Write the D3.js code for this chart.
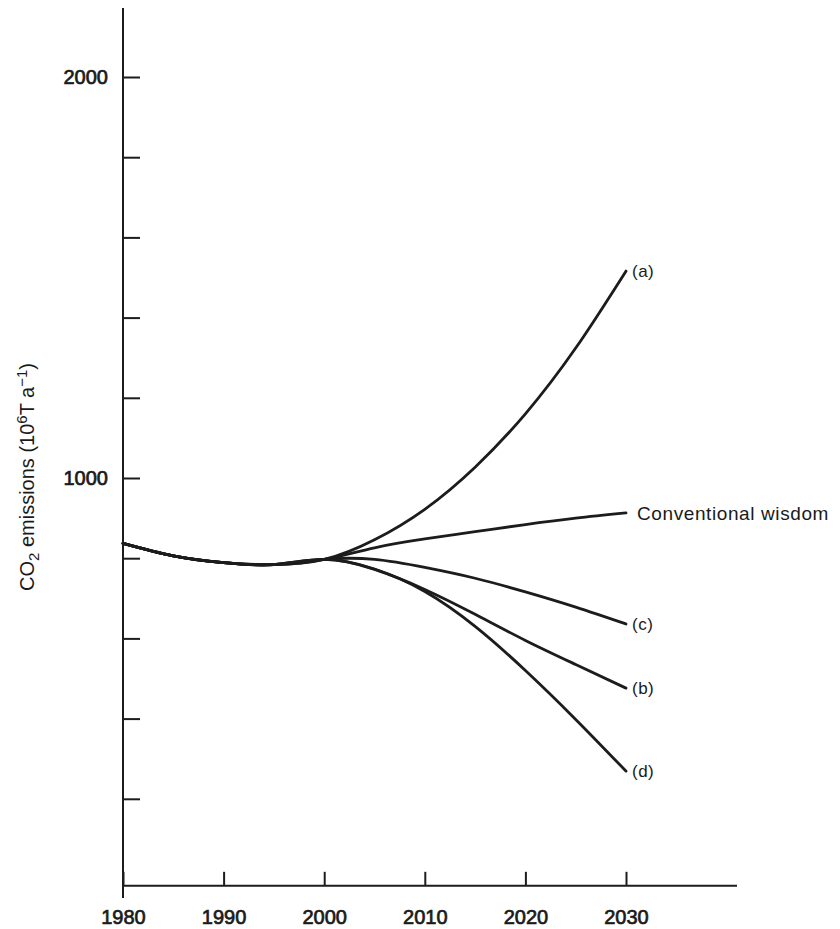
<!DOCTYPE html>
<html>
<head>
<meta charset="utf-8">
<script src="https://cdn.jsdelivr.net/npm/d3@7"></script>
<style>
  body { margin: 0; background: #fff; }
  svg text { font-family: "Liberation Sans", Arial, sans-serif; fill: #1a1a1a; }
</style>
</head>
<body>
<div id="chart"></div>
<script>
// data (CO2 emissions, 10^6 T per year)
var baseYears = [1980, 1985, 1990, 1995, 2000];
var baseValues = [837, 806, 789, 784, 797];

var branchYears = [2000, 2005, 2010, 2015, 2020, 2025, 2030];
var seriesA = [797, 846, 922, 1027, 1160, 1324, 1516];
var seriesConv = [797, 826, 848, 866, 884, 900, 913];
var seriesC = [797, 797, 777, 750, 716, 678, 636];
var seriesB = [797, 772, 722, 660, 595, 535, 476];
var seriesD = [797, 773, 717, 630, 520, 398, 269];

var seriesNames = ["(a)", "Conventional wisdom", "(c)", "(b)", "(d)"];
var seriesList = [seriesA, seriesConv, seriesC, seriesB, seriesD];

var xTicks = [1980, 1990, 2000, 2010, 2020, 2030];
var yTicks = [200, 400, 600, 800, 1000, 1200, 1400, 1600, 1800, 2000];
var yLabelled = [1000, 2000];

var width = 840, height = 929;

var svg = d3.select("#chart").append("svg")
    .attr("width", width)
    .attr("height", height);

// scales
var x = d3.scaleLinear().domain([1980, 2030]).range([123, 626]);
var y = d3.scaleLinear().domain([0, 2000]).range([879, 77]);
var yMin = -17;   // x-axis sits a bit below zero

var ink = "#1c1c1c";

// y axis
var yAxis = svg.append("g")
    .attr("transform", "translate(" + x(1980) + ",0)")
    .call(d3.axisLeft(y)
        .tickValues(yTicks)
        .tickSizeInner(-17)
        .tickSizeOuter(0)
        .tickPadding(15)
        .tickFormat(function(d) { return yLabelled.indexOf(d) >= 0 ? d : ""; }));
yAxis.select(".domain").remove();
yAxis.selectAll(".tick line").attr("stroke", ink).attr("stroke-width", 2);
yAxis.selectAll(".tick text")
    .style("font-size", "20px")
    .attr("stroke", ink).attr("stroke-width", 0.7)
    .attr("fill", ink);

svg.append("line")
    .attr("x1", x(1980)).attr("x2", x(1980))
    .attr("y1", 8).attr("y2", 898)
    .attr("stroke", ink).attr("stroke-width", 2);

// x axis
var xAxis = svg.append("g")
    .attr("transform", "translate(0," + y(yMin) + ")")
    .call(d3.axisBottom(x)
        .tickValues(xTicks)
        .tickSizeInner(-14)
        .tickSizeOuter(0)
        .tickPadding(24)
        .tickFormat(d3.format("d")));
xAxis.select(".domain").remove();
xAxis.selectAll(".tick line").attr("stroke", ink).attr("stroke-width", 2);
xAxis.selectAll(".tick text")
    .style("font-size", "20px")
    .attr("stroke", ink).attr("stroke-width", 0.7)
    .attr("fill", ink);

svg.append("line")
    .attr("x1", x(1980)).attr("x2", 737)
    .attr("y1", y(yMin)).attr("y2", y(yMin))
    .attr("stroke", ink).attr("stroke-width", 2);

// y axis title
svg.append("text")
    .attr("transform", "translate(34," + 477 + ") rotate(-90)")
    .attr("text-anchor", "middle")
    .style("font-size", "20px")
    .html('CO<tspan baseline-shift="-30%" font-size="15px">2</tspan> emissions (10<tspan baseline-shift="45%" font-size="15px">6</tspan>T a<tspan baseline-shift="45%" font-size="15px">\u22121</tspan>)');

// curves
var line = d3.line()
    .x(function(d) { return x(d[0]); })
    .y(function(d) { return y(d[1]); })
    .curve(d3.curveNatural);

var basePts = baseYears.map(function(yr, i) { return [yr, baseValues[i]]; });

seriesList.forEach(function(vals, k) {
    var pts = basePts.slice(0, -1).concat(branchYears.map(function(yr, i) { return [yr, vals[i]]; }));
    svg.append("path")
        .datum(pts)
        .attr("d", line)
        .attr("fill", "none")
        .attr("stroke", ink)
        .attr("stroke-width", 2.8)
        .attr("stroke-linecap", "round");

    svg.append("text")
        .attr("x", x(2030) + (k === 1 ? 11 : 6))
        .attr("y", y(vals[vals.length - 1]))
        .attr("dy", "0.35em")
        .style("font-size", k === 1 ? "19px" : "17px")
        .style("letter-spacing", k === 1 ? "0.6px" : "0.5px")
        .text(seriesNames[k]);
});
</script>
</body>
</html>
